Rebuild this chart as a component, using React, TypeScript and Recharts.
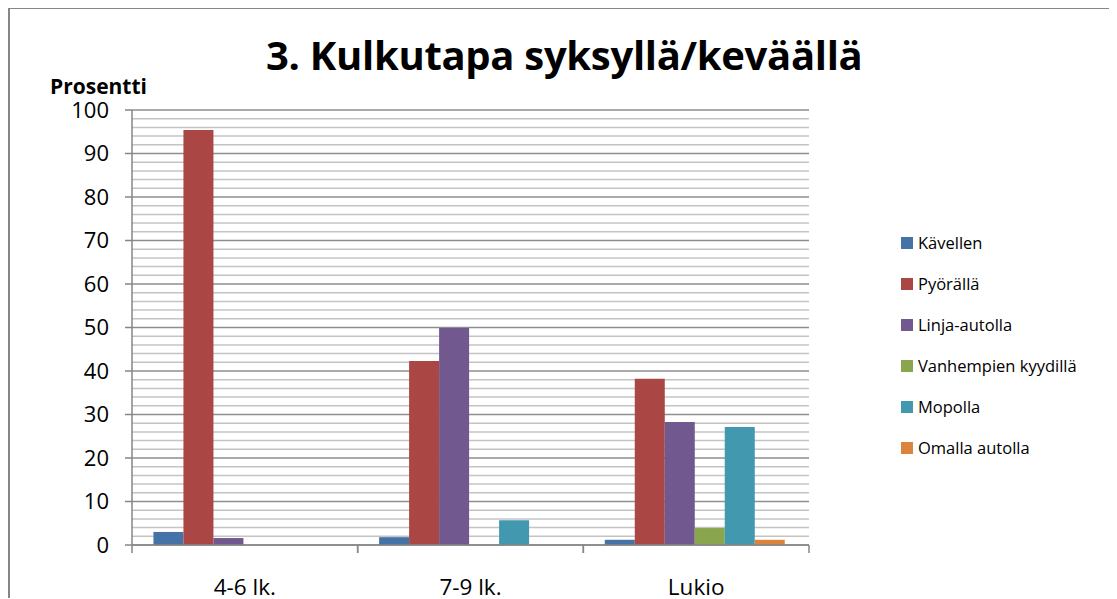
import React from 'react'
import {
  BarChart, Bar, XAxis, YAxis, CartesianGrid,
} from 'recharts'

const categories = ['4-6 lk.', '7-9 lk.', 'Lukio']
const seriesNames = ['Kävellen', 'Pyörällä', 'Linja-autolla', 'Vanhempien kyydillä', 'Mopolla', 'Omalla autolla']
const seriesColors = ['#4572A7', '#AA4643', '#71588F', '#89A54E', '#4198AF', '#DB843D']

const kavellen = [3.0, 1.8, 1.2]
const pyoralla = [95.4, 42.3, 38.2]
const linjaAutolla = [1.6, 49.9, 28.3]
const vanhempien = [0, 0, 3.9]
const mopolla = [0, 5.7, 27.1]
const omallaAutolla = [0, 0, 1.2]

const yTicks = [0, 10, 20, 30, 40, 50, 60, 70, 80, 90, 100]
const minorTicks = [2, 4, 6, 8, 12, 14, 16, 18, 22, 24, 26, 28, 32, 34, 36, 38, 42, 44, 46, 48,
  52, 54, 56, 58, 62, 64, 66, 68, 72, 74, 76, 78, 82, 84, 86, 88, 92, 94, 96, 98]

const seriesValues = [kavellen, pyoralla, linjaAutolla, vanhempien, mopolla, omallaAutolla]

const data = categories.map((c, i) => {
  const row: Record<string, string | number> = { name: c }
  seriesNames.forEach((s, j) => { row[s] = seriesValues[j][i] })
  return row
})

const FONT = '"Open Sans", "Noto Sans", sans-serif'
const AXIS = '#868686'

function CategoryTick(props: any) {
  const { x, y, payload } = props
  const half = payload?.offset ?? 0
  return (
    <g>
      <line x1={x - half} y1={y} x2={x - half} y2={y + 8} stroke={AXIS} strokeWidth={1.5} />
      <line x1={x + half} y1={y} x2={x + half} y2={y + 8} stroke={AXIS} strokeWidth={1.5} />
      <text x={x} y={y + 50} textAnchor="middle" fontSize={22.5} fill="#000" fontFamily={FONT}>
        {payload.value}
      </text>
    </g>
  )
}

export default function App() {
  return (
    <div style={{
      position: 'relative', width: 1109, height: 591, overflow: 'hidden',
      marginTop: -1, borderTop: `2px solid ${AXIS}`, borderLeft: `2px solid ${AXIS}`,
      boxSizing: 'border-box', background: '#fff',
    }}>
      <div style={{
        position: 'absolute', left: 256, top: 18, fontFamily: FONT, fontWeight: 700,
        fontSize: 40, letterSpacing: '-0.3px', color: '#000', whiteSpace: 'nowrap',
      }}>
        3. Kulkutapa syksyllä/keväällä
      </div>
      <div style={{
        position: 'absolute', left: 40, top: 63, fontFamily: FONT, fontWeight: 700,
        fontSize: 21, color: '#000', whiteSpace: 'nowrap',
      }}>
        Prosentti
      </div>
      <div style={{ position: 'absolute', left: -2, top: -1 }}>
        <BarChart
          width={1109} height={592} data={data}
          margin={{ top: 102, right: 308, bottom: 0, left: 54 }}
          barCategoryGap="9.5%" barGap={0}
        >
          <CartesianGrid horizontalValues={minorTicks} vertical={false} stroke="#c4c4c4" strokeWidth={1.5} />
          <CartesianGrid horizontalValues={yTicks} vertical={false} stroke="#8e8e8e" strokeWidth={1.5} />
          <XAxis
            dataKey="name" height={55} interval={0}
            axisLine={{ stroke: AXIS, strokeWidth: 1.5 }} tickLine={false} tickSize={0} tickMargin={0}
            tick={<CategoryTick />}
          />
          <YAxis
            width={70} domain={[0, 100]} ticks={yTicks} interval={0}
            axisLine={{ stroke: AXIS, strokeWidth: 1.5 }} tickLine={{ stroke: AXIS, strokeWidth: 1.5 }}
            tickSize={7} tickMargin={16}
            tick={{ fill: '#000', fontSize: 22, fontFamily: FONT }}
          />
          {seriesNames.map((s, i) => (
            <Bar key={s} dataKey={s} fill={seriesColors[i]} isAnimationActive={false} />
          ))}
        </BarChart>
      </div>
      <div style={{ position: 'absolute', left: 891, top: 213, fontFamily: FONT, fontSize: 16.5, color: '#000' }}>
        {seriesNames.map((s, i) => (
          <div key={s} style={{ display: 'flex', alignItems: 'center', height: 41 }}>
            <span style={{ width: 12, height: 12, background: seriesColors[i], marginRight: 5, display: 'inline-block' }} />
            <span>{s}</span>
          </div>
        ))}
      </div>
    </div>
  )
}
